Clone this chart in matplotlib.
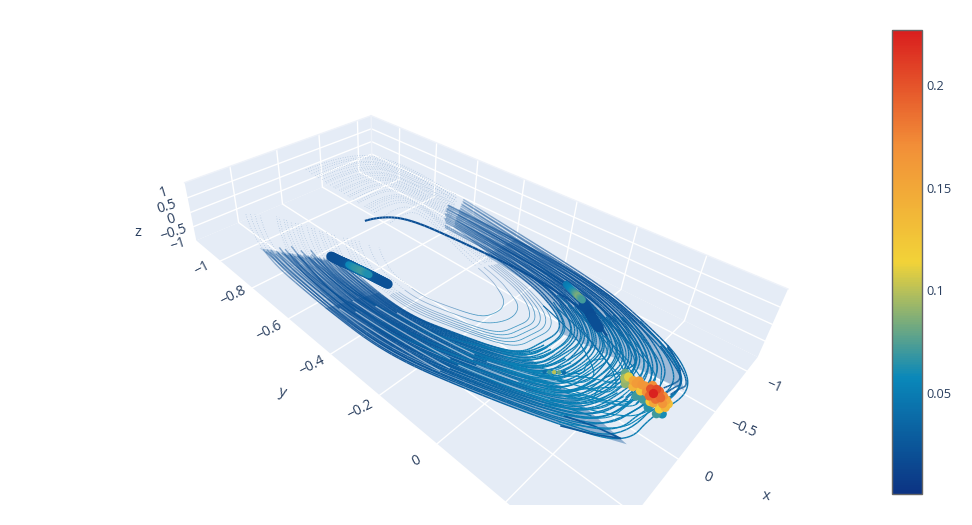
import numpy as np
import matplotlib
matplotlib.use('Agg')
import matplotlib.pyplot as plt
from matplotlib.colors import LinearSegmentedColormap, Normalize
from matplotlib.cm import ScalarMappable
from matplotlib.collections import LineCollection

plt.rcParams['font.family'] = ['Open Sans', 'DejaVu Sans']

# trajectories: top of the spiral -> x<0 band -> far end -> x>0 band -> top
loop_x = [
    [-.05, -.45, -.72, -.81, -.81, -.74, -.60, -.44, -.22, .10, .38, .53, .70, .86, .87, .84, .62],
    [-.05, -.44, -.70, -.78, -.78, -.72, -.58, -.43, -.21, .10, .36, .52, .68, .83, .85, .82, .60],
    [-.04, -.43, -.68, -.77, -.77, -.70, -.57, -.42, -.20, .09, .35, .50, .66, .82, .83, .80, .57],
    [-.04, -.41, -.66, -.74, -.74, -.68, -.55, -.38, -.18, .09, .34, .49, .65, .79, .80, .78, .55],
    [-.04, -.40, -.65, -.73, -.73, -.66, -.54, -.38, -.17, .09, .33, .48, .63, .78, .79, .72, .45],
    [-.04, -.39, -.63, -.71, -.71, -.65, -.52, -.37, -.17, .09, .33, .47, .62, .76, .77, .71, .44],
    [-.04, -.38, -.61, -.68, -.69, -.62, -.51, -.35, -.17, .09, .32, .46, .60, .74, .74, .68, .43],
    [-.04, -.37, -.59, -.67, -.67, -.61, -.49, -.34, -.16, .09, .31, .44, .59, .72, .73, .67, .42],
    [-.03, -.36, -.58, -.65, -.65, -.59, -.48, -.33, -.16, .09, .31, .44, .57, .70, .71, .65, .41],
    [-.03, -.34, -.55, -.63, -.63, -.57, -.46, -.32, -.15, .08, .30, .42, .55, .68, .69, .63, .40],
    [-.03, -.33, -.54, -.61, -.61, -.55, -.45, -.31, -.14, .08, .29, .41, .54, .66, .67, .62, .39],
    [-.03, -.32, -.53, -.59, -.59, -.54, -.44, -.30, -.14, .08, .28, .40, .53, .64, .65, .60, .38],
    [-.03, -.31, -.50, -.57, -.57, -.52, -.42, -.29, -.13, .08, .27, .39, .51, .62, .63, .58, .36],
    [-.03, -.30, -.49, -.55, -.55, -.50, -.41, -.28, -.13, .08, .26, .38, .49, .60, .61, .56, .35],
    [-.02, -.29, -.47, -.53, -.53, -.49, -.39, -.27, -.12, .08, .26, .37, .48, .59, .59, .55, .34],
    [-.02, -.28, -.45, -.51, -.51, -.46, -.37, -.26, -.12, .07, .25, .35, .46, .56, .57, .52, .33],
    [-.02, -.27, -.44, -.49, -.49, -.45, -.36, -.25, -.11, .07, .24, .34, .45, .54, .55, .51, .32],
    [-.02, -.26, -.42, -.47, -.47, -.43, -.35, -.24, -.11, .07, .23, .33, .43, .53, .53, .49, .31],
    [-.02, -.24, -.40, -.45, -.45, -.41, -.33, -.23, -.10, .07, .22, .32, .41, .50, .51, .47, .30],
    [-.01, -.23, -.38, -.43, -.43, -.39, -.32, -.22, -.10, .07, .22, .31, .40, .49, .49, .45, .29],
]
loop_y = [
    [-1.02, -.97, -.82, -.60, -.30, .02, .17, .30, .36, .33, .33, .21, .02, -.20, -.45, -.84, -1.02],
    [-1.00, -.95, -.81, -.59, -.30, .01, .155, .285, .345, .31, .30, .19, .01, -.20, -.45, -.83, -1.00],
    [-.98, -.94, -.80, -.58, -.30, .00, .14, .27, .33, .30, .28, .18, .00, -.21, -.45, -.82, -.99],
    [-.96, -.92, -.78, -.58, -.30, -.01, .13, .23, .28, .28, .26, .17, -.01, -.21, -.44, -.80, -.97],
    [-.95, -.91, -.77, -.57, -.30, -.02, .12, .22, .27, .27, .25, .16, -.02, -.21, -.44, -.75, -.93],
    [-.94, -.89, -.76, -.57, -.30, -.02, .11, .21, .26, .25, .23, .15, -.03, -.22, -.44, -.74, -.92],
    [-.92, -.87, -.75, -.56, -.30, -.03, .10, .19, .24, .23, .21, .13, -.03, -.22, -.43, -.73, -.90],
    [-.90, -.86, -.74, -.55, -.31, -.04, .09, .18, .22, .22, .20, .12, -.04, -.22, -.43, -.72, -.89],
    [-.89, -.85, -.73, -.55, -.31, -.05, .07, .16, .21, .20, .19, .11, -.05, -.23, -.43, -.71, -.87],
    [-.87, -.83, -.71, -.54, -.31, -.06, .06, .15, .19, .19, .17, .09, -.06, -.23, -.42, -.70, -.85],
    [-.85, -.82, -.70, -.53, -.31, -.07, .05, .13, .18, .17, .16, .08, -.07, -.23, -.42, -.69, -.84],
    [-.84, -.80, -.69, -.53, -.31, -.07, .04, .12, .16, .16, .14, .07, -.07, -.23, -.42, -.68, -.83],
    [-.82, -.78, -.68, -.52, -.31, -.08, .03, .10, .14, .14, .12, .05, -.08, -.24, -.42, -.66, -.81],
    [-.81, -.77, -.67, -.52, -.31, -.09, .02, .09, .13, .13, .11, .04, -.09, -.24, -.41, -.65, -.79],
    [-.79, -.76, -.66, -.51, -.31, -.10, .01, .08, .12, .11, .10, .03, -.10, -.24, -.41, -.64, -.78],
    [-.77, -.74, -.64, -.50, -.31, -.11, -.01, .06, .10, .09, .08, .02, -.11, -.25, -.41, -.63, -.76],
    [-.76, -.73, -.63, -.50, -.31, -.11, -.02, .05, .08, .08, .07, .00, -.11, -.25, -.40, -.62, -.75],
    [-.74, -.71, -.62, -.49, -.31, -.12, -.03, .04, .07, .07, .05, -.01, -.12, -.25, -.40, -.61, -.73],
    [-.72, -.69, -.61, -.48, -.31, -.13, -.05, .02, .05, .05, .03, -.02, -.13, -.26, -.40, -.60, -.71],
    [-.71, -.68, -.60, -.48, -.31, -.14, -.06, .01, .04, .03, .02, -.03, -.14, -.26, -.40, -.59, -.70],
]
# values along a loop: height and colour value
loop_z = [.7, 1.0, .85, .45, .15, 0, 0, 0, 0, 0, 0, 0, 0, 0, 0, .1, .35]
loop_v = [.02, .02, .02, .02, .02, .02, .025, .04, .045, .05, .05, .042, .03, .022, .02, .02, .02]

band_a_x = [
    [.10, .38, .52, .69, .85, .86, .79], [.10, .36, .51, .67, .83, .84, .77], [.09, .34, .49, .65, .80, .81, .75],
    [.09, .34, .485, .64, .785, .795, .73], [.09, .33, .47, .63, .77, .78, .71], [.09, .33, .465, .61, .75, .76, .70],
    [.09, .32, .46, .61, .75, .75, .69], [.09, .315, .45, .59, .73, .735, .675], [.09, .31, .44, .58, .71, .72, .66],
    [.085, .30, .43, .565, .695, .70, .645], [.09, .30, .43, .56, .69, .69, .64], [.085, .29, .415, .545, .67, .675, .625],
    [.08, .28, .40, .53, .65, .66, .61], [.08, .28, .395, .52, .635, .645, .59], [.08, .27, .39, .51, .63, .63, .59],
    [.08, .27, .38, .50, .61, .62, .57], [.08, .26, .37, .49, .59, .60, .55], [.075, .255, .36, .47, .58, .585, .54],
    [.07, .25, .36, .47, .57, .58, .53], [.075, .245, .345, .45, .555, .56, .515], [.07, .24, .34, .44, .54, .54, .50],
    [.07, .23, .325, .425, .52, .525, .485], [.07, .23, .32, .42, .51, .52, .48], [.07, .22, .31, .405, .495, .50, .46],
    [.30, .45, .58, .72, .74, .66, .60], [.22, .34, .50, .62, .66, .62, .58], [.35, .50, .60, .66, .72, .72, .66],
    [.18, .30, .44, .58, .60, .58, .52], [.28, .42, .54, .68, .78, .73, .68], [.25, .36, .46, .54, .62, .60, .55],
]
band_a_y = [
    [.32, .32, .20, .01, -.20, -.45, -.79], [.30, .28, .19, .01, -.205, -.445, -.78], [.28, .27, .17, .00, -.21, -.44, -.76],
    [.27, .25, .16, -.01, -.21, -.44, -.76], [.26, .24, .15, -.02, -.22, -.44, -.75], [.245, .225, .14, -.025, -.22, -.435, -.74],
    [.24, .22, .13, -.03, -.22, -.43, -.73], [.225, .21, .125, -.035, -.22, -.43, -.725], [.21, .19, .11, -.04, -.22, -.43, -.71],
    [.20, .18, .10, -.05, -.225, -.425, -.705], [.19, .18, .10, -.05, -.23, -.42, -.70], [.18, .16, .085, -.06, -.23, -.42, -.69],
    [.17, .15, .07, -.07, -.23, -.42, -.68], [.15, .135, .065, -.075, -.235, -.42, -.675], [.15, .13, .06, -.08, -.24, -.42, -.67],
    [.13, .12, .05, -.085, -.24, -.415, -.66], [.12, .10, .03, -.09, -.24, -.41, -.65], [.105, .09, .025, -.10, -.245, -.41, -.64],
    [.10, .09, .02, -.10, -.25, -.41, -.63], [.085, .075, .01, -.11, -.25, -.405, -.625], [.07, .06, .00, -.12, -.25, -.40, -.61],
    [.06, .05, -.01, -.125, -.255, -.40, -.605], [.05, .04, -.02, -.13, -.26, -.40, -.60], [.04, .03, -.03, -.135, -.26, -.40, -.59],
    [.15, .02, -.12, -.24, -.45, -.66, -.76], [.08, .04, -.07, -.20, -.40, -.62, -.72], [.24, .10, -.06, -.23, -.42, -.64, -.76],
    [.03, -.01, -.12, -.22, -.40, -.60, -.70], [.20, .12, -.02, -.14, -.36, -.70, -.78], [.14, .05, -.08, -.24, -.42, -.58, -.68],
]
band_a_v = [.05, .05, .042, .03, .022, .02, .02]
band_b_x = [
    [-.79, -.79, -.72, -.59, -.42, -.20, .10], [-.78, -.78, -.71, -.575, -.40, -.19, .10], [-.76, -.76, -.69, -.56, -.39, -.19, .09],
    [-.725, -.725, -.66, -.54, -.375, -.175, .09], [-.70, -.70, -.64, -.52, -.36, -.17, .09], [-.675, -.675, -.615, -.50, -.35, -.165, .09],
    [-.64, -.64, -.59, -.47, -.33, -.15, .09], [-.62, -.62, -.56, -.455, -.315, -.15, .085], [-.58, -.58, -.53, -.43, -.30, -.14, .08],
    [-.56, -.56, -.51, -.41, -.285, -.13, .08], [-.52, -.52, -.48, -.39, -.27, -.12, .08], [-.50, -.50, -.455, -.37, -.255, -.115, .075],
    [-.74, -.70, -.58, -.46, -.33, -.18, .04], [-.66, -.62, -.55, -.47, -.36, -.20, -.02], [-.60, -.60, -.58, -.50, -.38, -.22, .00],
]
band_b_y = [
    [-.59, -.30, .01, .16, .29, .35, .32], [-.59, -.30, .005, .15, .255, .31, .30], [-.58, -.30, .00, .14, .24, .29, .29],
    [-.575, -.30, -.015, .12, .22, .27, .265], [-.57, -.30, -.03, .11, .20, .25, .24], [-.555, -.305, -.035, .09, .18, .23, .225],
    [-.55, -.31, -.05, .07, .16, .20, .20], [-.54, -.31, -.06, .055, .14, .18, .18], [-.53, -.31, -.07, .04, .11, .16, .15],
    [-.52, -.31, -.085, .02, .095, .135, .13], [-.51, -.31, -.10, .00, .07, .11, .11], [-.50, -.31, -.11, -.015, .055, .09, .085],
    [-.58, -.32, -.07, .08, .20, .24, .20], [-.56, -.31, -.05, .06, .13, .20, .25], [-.54, -.33, -.02, .09, .19, .28, .29],
]
band_b_v = [.02, .02, .022, .025, .04, .045, .05]
# strands that cross over at the far end
fan_x = [
    [-.59, -.42, -.20, .10, .36, .52], [-.56, -.39, -.18, .10, .35, .50], [-.53, -.37, -.17, .09, .33, .475],
    [-.51, -.36, -.17, .09, .32, .46], [-.49, -.34, -.16, .09, .31, .44], [-.47, -.325, -.15, .085, .30, .425],
    [-.44, -.31, -.14, .08, .285, .405], [-.425, -.295, -.135, .08, .275, .39], [-.40, -.275, -.125, .08, .26, .37],
    [-.38, -.26, -.12, .075, .25, .355], [-.355, -.245, -.11, .07, .235, .335], [-.335, -.23, -.10, .07, .225, .32],
    [-.42, -.30, -.12, .02, .22, .40], [-.36, -.26, -.10, .04, .20, .36], [-.50, -.33, -.18, -.02, .16, .30],
    [-.30, -.20, -.06, .06, .18, .33], [-.46, -.28, -.08, .12, .30, .44], [-.25, -.17, -.04, .08, .24, .38],
    [-.54, -.38, -.16, .05, .28, .47], [-.38, -.22, -.05, .14, .26, .42], [-.28, -.14, .00, .12, .26, .36],
    [-.44, -.30, -.14, .00, .14, .28],
]
fan_y = [
    [.16, .29, .345, .32, .30, .20], [.135, .24, .29, .28, .27, .17], [.115, .21, .26, .26, .24, .15],
    [.10, .195, .24, .24, .22, .135], [.08, .17, .215, .21, .195, .11], [.065, .15, .195, .19, .175, .10],
    [.045, .13, .17, .165, .15, .075], [.03, .11, .15, .145, .13, .06], [.01, .085, .12, .12, .105, .04],
    [-.005, .07, .10, .10, .085, .02], [-.025, .04, .075, .07, .06, .00], [-.04, .025, .055, .05, .04, -.015],
    [-.05, .12, .27, .30, .24, .08], [.02, .14, .22, .28, .27, .12], [.03, .20, .30, .26, .20, .16],
    [-.02, .10, .20, .24, .22, .05], [.09, .22, .24, .20, .23, .07], [-.05, .06, .14, .19, .16, .00],
    [.12, .26, .30, .33, .28, .10], [.08, .17, .28, .30, .18, .02], [.05, .13, .26, .16, .12, .03],
    [.00, .10, .18, .14, .17, .06],
]
# pale gaps between the strands of the x>0 band
gap_x = [[.80, .78, .72], [.74, .72, .66], [.68, .66, .60], [.60, .58, .50], [.54, .52, .46],
         [.60, .52, .42], [.52, .44, .34], [.45, .36, .27]]
gap_y = [[-.42, -.25, -.08], [-.38, -.22, -.07], [-.42, -.26, -.09], [-.36, -.22, -.05], [-.30, -.18, -.06],
         [-.06, .06, .15], [-.03, .08, .17], [-.02, .07, .14]]
# small rings in the middle of the spiral
ring_x = [
    [-.01, -.21, -.35, -.39, -.39, -.36, -.29, -.20, -.08, .06, .20, .28, .37, .45, .45, .41, .26],
    [-.01, -.20, -.33, -.375, -.375, -.345, -.275, -.19, -.075, .06, .19, .27, .355, .43, .435, .395, .25],
    [-.01, -.19, -.32, -.36, -.36, -.33, -.26, -.18, -.07, .06, .18, .26, .34, .41, .42, .38, .24],
    [.00, -.18, -.30, -.34, -.34, -.315, -.25, -.17, -.065, .06, .175, .25, .325, .39, .40, .36, .23],
    [.00, -.17, -.28, -.32, -.32, -.30, -.24, -.16, -.06, .06, .17, .24, .31, .37, .38, .34, .22],
    [.00, -.14, -.24, -.28, -.28, -.26, -.20, -.14, -.05, .05, .15, .21, .27, .33, .33, .30, .19],
    [.01, -.12, -.20, -.24, -.24, -.22, -.17, -.11, -.03, .05, .13, .18, .23, .28, .28, .26, .17],
]
ring_y = [
    [-.68, -.65, -.58, -.47, -.31, -.16, -.08, -.01, .02, .01, .00, -.05, -.16, -.27, -.39, -.57, -.67],
    [-.67, -.64, -.57, -.465, -.31, -.165, -.09, -.025, .005, -.005, -.015, -.06, -.165, -.275, -.39, -.56, -.655],
    [-.66, -.63, -.56, -.46, -.31, -.17, -.10, -.04, -.01, -.02, -.03, -.07, -.17, -.28, -.39, -.55, -.64],
    [-.645, -.615, -.545, -.45, -.31, -.18, -.11, -.055, -.025, -.035, -.045, -.085, -.18, -.28, -.385, -.54, -.625],
    [-.63, -.60, -.53, -.44, -.31, -.19, -.12, -.07, -.04, -.05, -.06, -.10, -.19, -.28, -.38, -.53, -.61],
    [-.59, -.57, -.51, -.42, -.31, -.20, -.15, -.10, -.08, -.08, -.10, -.13, -.20, -.29, -.37, -.50, -.58],
    [-.55, -.53, -.48, -.40, -.31, -.22, -.18, -.14, -.12, -.12, -.13, -.16, -.22, -.29, -.36, -.47, -.54],
]
inner_arc_x = [-.08, -.22, -.378, -.434, -.472, -.45, -.40, -.30]
inner_arc_y = [-.713, -.70, -.62, -.416, -.185, -.05, .05, .13]
tip_x = [.533, .45, .369, .40, .46]
tip_y = [.21, .27, .314, .26, .20]
nose_x = [[-.48, -.38, -.26, -.20, -.12], [-.46, -.36, -.25, -.19, -.10], [-.50, -.40, -.28, -.21, -.14]]
nose_y = [[.254, .31, .345, .335, .33], [.24, .30, .335, .325, .32], [.25, .30, .325, .32, .31]]

# fast spots
hot_x = [-.083, -.043, -.007, -.063, -.086, -.075, -.017, -.02, .034, -.077, -.056, -.098, -.08, -.024,
         -.023, -.008, .027, .071, .062, .015, .049, -.071, -.055, -.07, -.037, -.111, -.10, -.021, -.056,
         -.065, -.045, .01, .028]
hot_y = [.227, .234, .243, .251, .261, .278, .26, .278, .279, .291, .302, .308, .321, .313,
         .33, .339, .332, .334, .313, .308, .343, .238, .26, .271, .289, .289, .301, .299, .319,
         .331, .339, .315, .294]
hot_v = [.08, .095, .09, .15, .16, .165, .14, .125, .07, .2, .225, .19, .17, .185,
         .165, .14, .115, .07, .065, .12, .06, .11, .16, .165, .17, .17, .205, .19, .19,
         .15, .13, .15, .07]
# slower clouds on the bands, drawn as short fat strokes
cloud_x = [[.455, .445, .43, .42, .41, .40, .39, .38, .37], [-.47, -.44, -.40, -.36, -.33]]
cloud_y = [[-.63, -.60, -.57, -.55, -.52, -.50, -.47, -.44, -.41], [.02, .04, .06, .08, .10]]
cloud_v = [[.018, .02, .022, .03, .04, .04, .03, .022, .018], [.022, .02, .018, .02, .02]]
core_x = [[.425, .415, .405, .395], [-.57, -.54, -.52, -.50]]
core_y = [[-.56, -.53, -.51, -.48], [-.06, -.03, -.01, .01]]
core_v = [[.05, .065, .07, .05], [.035, .06, .085, .05]]
streak_x = [.263, .242, .222, .202, .182]
streak_y = [.094, .102, .11, .118, .127]
streak_v = [.04, .07, .1, .08, .04]

x_ticks = [-1, -.5, 0]
x_labels = ['−1', '−0.5', '0']
y_ticks = [-1, -.8, -.6, -.4, -.2, 0]
y_labels = ['−1', '−0.8', '−0.6', '−0.4', '−0.2', '0']
z_ticks = [-1, -.5, 0, .5, 1]
z_labels = ['−1', '−0.5', '0', '0.5', '1']
bar_ticks = [.05, .1, .15, .2]
bar_labels = ['0.05', '0.1', '0.15', '0.2']
vmin, vmax = .0008, .2268

xr = (-1.19, .94)
yr = (-1.17, .40)
zr = (-1, 1)

# camera: where the corners of the box land in the picture
corners = [(xr[1], yr[0], -1, 198, 242), (xr[0], yr[0], -1, 370, 165), (xr[0], yr[1], -1, 758, 357),
           (xr[1], yr[1], -1, 590.5, 572.5), (xr[1], yr[0], 1, 183, 181), (xr[0], yr[0], 1, 373, 117),
           (xr[0], yr[1], 1, 788, 289), (xr[1], yr[1], 1, 612.5, 499)]
rows, rhs = [], []
for cx, cy, cz, u, v in corners:
    rows.append([cx, cy, cz, 1, 0, 0, 0, 0, -u * cx, -u * cy, -u * cz])
    rows.append([0, 0, 0, 0, cx, cy, cz, 1, -v * cx, -v * cy, -v * cz])
    rhs += [u, v]
cam = np.append(np.linalg.lstsq(np.array(rows), np.array(rhs), rcond=None)[0], 1).reshape(3, 4)


def project(x, y, z):
    x, y, z = np.broadcast_arrays(np.asarray(x, float), np.asarray(y, float), np.asarray(z, float))
    pts = cam @ np.vstack([x.ravel(), y.ravel(), z.ravel(), np.ones(x.size)])
    return pts[0] / pts[2], pts[1] / pts[2]


portland = LinearSegmentedColormap.from_list('portland', [
    (0, (12 / 255, 51 / 255, 131 / 255)), (.25, (10 / 255, 136 / 255, 186 / 255)),
    (.5, (242 / 255, 211 / 255, 56 / 255)), (.75, (242 / 255, 143 / 255, 56 / 255)),
    (1, (217 / 255, 30 / 255, 30 / 255))])
norm = Normalize(vmin, vmax)

fig = plt.figure(figsize=(9.72, 5.25), dpi=100)
ax = fig.add_axes([0, 20 / 525, 1, 505 / 525])
ax.set_xlim(0, 972)
ax.set_ylim(505, 0)
ax.axis('off')


def smooth(u, v, n=10):
    # quadratic spline through the picture positions, pos = place along the list
    t = np.linspace(0, 1, n, endpoint=False)[:, None]
    p = np.column_stack([u, v])
    out, pos = [], []
    for i in range(1, len(p) - 1):
        a = p[i - 1] if i == 1 else (p[i - 1] + p[i]) / 2
        b = p[i + 1] if i == len(p) - 2 else (p[i] + p[i + 1]) / 2
        out.append((1 - t) ** 2 * a + 2 * t * (1 - t) * p[i] + t ** 2 * b)
        pos.append(i - .5 + t[:, 0])
    return np.vstack(out + [p[-1:]]), np.append(np.concatenate(pos), len(p) - 1)


def trace(x, y, z, vals, alphas, lw, cut=.32, zorder=3, capstyle='butt'):
    u, v = project(x, y, z)
    pts, pos = smooth(u, v)
    idx = np.arange(len(u))
    a = np.interp(pos, idx, alphas)
    rgba = portland(norm(np.interp(pos, idx, vals)))
    rgba[:, 3] = a
    segs = np.stack([pts[:-1], pts[1:]], axis=1)
    solid = (a[:-1] >= cut)
    ax.add_collection(LineCollection(segs[solid], colors=rgba[:-1][solid], linewidths=lw, zorder=zorder,
                                     capstyle=capstyle))
    # thin parts of a trace are only dots
    faint = np.where(~solid)[0]
    if len(faint):
        for run in np.split(faint, np.where(np.diff(faint) > 1)[0] + 1):
            ax.plot(pts[run, 0], pts[run, 1], ls=(0, (1, 2.5)), lw=.5, color=portland(norm(.02)), alpha=.32,
                    zorder=zorder)


def wash(outer, inner, a, b, alpha):
    pts_o, _ = smooth(*project(loop_x[outer][a:b], loop_y[outer][a:b], 0))
    pts_i, _ = smooth(*project(loop_x[inner][a:b], loop_y[inner][a:b], 0))
    ax.fill(*np.vstack([pts_o, pts_i[::-1]]).T, color=portland(norm(.022)), alpha=alpha, lw=0, zorder=2.5)


# walls, floor and grid
pane = '#E5ECF6'
ax.fill(*project([xr[0], xr[1], xr[1], xr[0]], [yr[0], yr[0], yr[1], yr[1]], -1), color=pane, lw=0, zorder=1)
ax.fill(*project([xr[0], xr[1], xr[1], xr[0]], yr[0], [-1, -1, 1, 1]), color=pane, lw=0, zorder=1)
ax.fill(*project(xr[0], [yr[0], yr[1], yr[1], yr[0]], [-1, -1, 1, 1]), color=pane, lw=0, zorder=1)
for t in x_ticks + [.5]:
    ax.plot(*project([t, t, t], [yr[1], yr[0], yr[0]], [-1, -1, 1]), color='white', lw=1.0, zorder=2)
for t in y_ticks + [.2]:
    ax.plot(*project([xr[1], xr[0], xr[0]], [t, t, t], [-1, -1, 1]), color='white', lw=1.0, zorder=2)
for t in z_ticks[1:-1]:
    ax.plot(*project([xr[1], xr[0], xr[0]], [yr[0], yr[0], yr[1]], t), color='white', lw=1.0, zorder=2)
ax.plot(*project([xr[1], xr[0], xr[0]], [yr[0], yr[0], yr[1]], 1), color='#EEF2F9', lw=1.0, zorder=2)
ax.plot(*project(xr[0], yr[0], [-1, 1]), color='#EEF2F9', lw=1.0, zorder=2)

# washes under the two dense bands
wash(0, -1, 10, 15, .4)
wash(2, -1, 13, 16, .22)
wash(1, -1, 4, 9, .32)

ring_a = [.16, .16, .16, .2, .3, .35, .5, .7, .8, .8, .8, .7, .5, .4, .3, .18, .16]
for rx, ry in zip(ring_x, ring_y):
    trace(rx, ry, loop_z, loop_v, ring_a, .55)

loop_a = [.15, .15, .2, .28, .55, .8, .95, 1, 1, 1, 1, 1, 1, .95, .7, .26, .16]
for lx, ly in zip(loop_x, loop_y):
    trace(lx, ly, loop_z, loop_v, loop_a, 1.0)
for ax_, ay_ in zip(band_a_x, band_a_y):
    trace(ax_, ay_, 0, band_a_v, [1, 1, 1, 1, .95, .6, .2], 1.0)
for bx_, by_ in zip(band_b_x, band_b_y):
    trace(bx_, by_, 0, band_b_v, [.2, .65, .95, 1, 1, 1, 1], 1.0)
for gx_, gy_ in zip(gap_x, gap_y):
    ax.plot(*smooth(*project(gx_, gy_, 0))[0].T, color='#E5ECF6', lw=.9, alpha=.6, zorder=3.2)
for fx_, fy_ in zip(fan_x, fan_y):
    trace(fx_, fy_, 0, [.03, .04, .05, .055, .055, .05], [1] * 6, .8, zorder=4)
trace(inner_arc_x, inner_arc_y, 0, [.02] * 8, [1] * 8, 1.5, zorder=4)
ax.plot(*project(tip_x, tip_y, 0), color=portland(norm(.025)), lw=1.2, zorder=3)
for nx_, ny_ in zip(nose_x, nose_y):
    trace(nx_, ny_, 0, [.03] * 5, [1] * 5, 1.1, zorder=4)

# fat strokes for the clouds, then the hot spots on top
for cx_, cy_, cv_ in zip(cloud_x, cloud_y, cloud_v):
    trace(cx_, cy_, 0, cv_, [1] * len(cx_), 7, zorder=5, capstyle='round')
for cx_, cy_, cv_ in zip(core_x, core_y, core_v):
    trace(cx_, cy_, 0, cv_, [1] * len(cx_), 5, zorder=5, capstyle='round')
u, v = project(streak_x, streak_y, 0)
ax.scatter(u, v, c=streak_v, cmap=portland, norm=norm, s=10, lw=0, zorder=5)
order = np.argsort(hot_v)
u, v = project(np.array(hot_x)[order], np.array(hot_y)[order], 0)
ax.scatter(u, v, c=np.array(hot_v)[order], cmap=portland, norm=norm, s=44, lw=0, zorder=6)

# axis labels, placed off the box edge
text_c = '#2a3f5f'
x_off = [(27, 15), (28, 17), (29, 18)]
y_off = [(-19, 7), (-19, 8), (-20, 12), (-19, 12), (-20, 14), (-21, 17)]
z_off = [(-18, 4), (-20, 6), (-20, 7), (-21, 9), (-21, 10)]
for t, s, off in zip(x_ticks, x_labels, x_off):
    u, v = project(t, yr[1], -1)
    ax.annotate(s, (u[0], v[0]), xytext=(off[0], -off[1]), textcoords='offset pixels', ha='center', va='center',
                color=text_c, fontsize=10, rotation=-24, annotation_clip=False)
for t, s, off in zip(y_ticks, y_labels, y_off):
    u, v = project(xr[1], t, -1)
    ax.annotate(s, (u[0], v[0]), xytext=(off[0], -off[1]), textcoords='offset pixels', ha='center', va='center',
                color=text_c, fontsize=10, rotation=27, annotation_clip=False)
for t, s, off in zip(z_ticks, z_labels, z_off):
    u, v = project(xr[1], yr[0], t)
    ax.annotate(s, (u[0], v[0]), xytext=(off[0], -off[1]), textcoords='offset pixels', ha='center', va='center',
                color=text_c, fontsize=10, rotation=17, annotation_clip=False)
ax.text(766, 496, 'x', ha='center', va='center', color=text_c, fontsize=10.5, rotation=-10)
ax.text(282, 393, 'y', ha='center', va='center', color=text_c, fontsize=10.5, rotation=-15)
ax.text(138, 233, 'z', ha='center', va='center', color=text_c, fontsize=10.5)

# colour bar
cax = fig.add_axes([892 / 972, 1 - 494 / 525, 30 / 972, 464 / 525])
cb = fig.colorbar(ScalarMappable(norm=norm, cmap=portland), cax=cax)
cb.set_ticks(bar_ticks, labels=bar_labels)
cb.ax.tick_params(length=0, pad=3, labelsize=9.2, labelcolor=text_c)
cb.outline.set_edgecolor('#666666')
cb.outline.set_linewidth(1)

fig.savefig('out.png', dpi=100)
